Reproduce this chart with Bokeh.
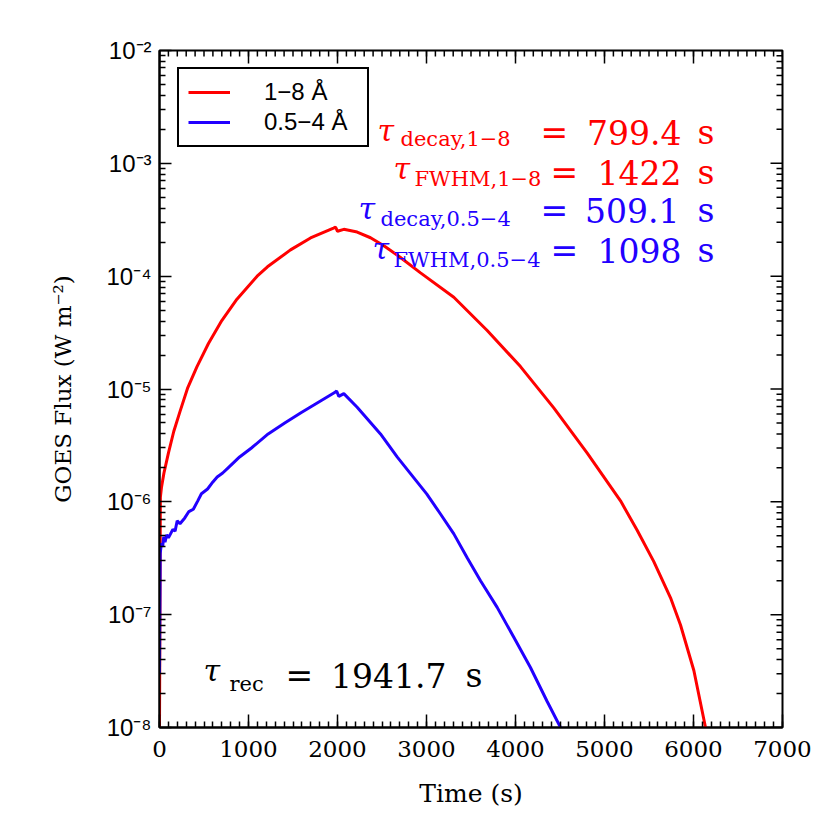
import math
from bokeh.plotting import figure
from bokeh.models import (ColumnDataSource, FixedTicker, Legend, LegendItem,
                          Range1d, CustomJSTickFormatter)
from bokeh.core.properties import value
from bokeh.embed import file_html
from bokeh.resources import INLINE

# ---------------- data ----------------
time_18 = [0, 10, 22, 50, 100, 160, 230, 318, 420, 550, 700, 870, 1097, 1213,
           1472, 1697, 1955, 1978, 2000, 2071, 2221, 2371, 2521, 2700, 2933,
           3307, 3682, 4056, 4430, 4806, 5180, 5367, 5554, 5742, 5854, 6004,
           6135]
flux_18 = [1.0e-8, 1.1e-6, 1.34e-6, 1.8e-6, 2.7e-6, 4.2e-6, 6.3e-6, 1.03e-5,
           1.57e-5, 2.53e-5, 4.04e-5, 6.25e-5, 1.0e-4, 1.21e-4, 1.71e-4,
           2.18e-4, 2.67e-4, 2.72e-4, 2.5e-4, 2.6e-4, 2.46e-4, 2.19e-4,
           1.86e-4, 1.48e-4, 1.07e-4, 6.5e-5, 3.3e-5, 1.58e-5, 6.8e-6, 2.7e-6,
           1.02e-6, 5.6e-7, 2.95e-7, 1.41e-7, 8.1e-8, 3.2e-8, 1.0e-8]

time_05 = [0, 8, 22, 35, 48, 62, 80, 100, 124, 150, 175, 199, 230, 284, 330,
           380, 430, 471, 540, 600, 648, 710, 771, 900, 1033, 1221, 1407, 1594,
           1781, 1968, 1990, 2015, 2071, 2221, 2483, 2670, 2820, 3004, 3157,
           3307, 3457, 3607, 3794, 3981, 4168, 4356, 4506]
flux_05 = [3.0e-8, 3.5e-7, 4.3e-7, 4.0e-7, 4.9e-7, 4.4e-7, 5.1e-7, 4.8e-7,
           5.2e-7, 5.7e-7, 5.5e-7, 6.8e-7, 6.4e-7, 7.2e-7, 8.2e-7, 8.6e-7,
           1.02e-6, 1.18e-6, 1.3e-6, 1.5e-6, 1.66e-6, 1.8e-6, 2.0e-6, 2.5e-6,
           3.0e-6, 4.0e-6, 5.0e-6, 6.2e-6, 7.6e-6, 9.3e-6, 9.6e-6, 8.6e-6,
           9.1e-6, 6.9e-6, 4.0e-6, 2.5e-6, 1.78e-6, 1.17e-6, 7.8e-7, 5.2e-7,
           3.2e-7, 2.0e-7, 1.16e-7, 6.3e-8, 3.4e-8, 1.7e-8, 1.0e-8]

series_labels = ["1\u22128 \u00c5", "0.5\u22124 \u00c5"]
series_colors = ["#ff0000", "#2200ff"]

x_ticks = [0, 1000, 2000, 3000, 4000, 5000, 6000, 7000]
y_ticks = [1e-8, 1e-7, 1e-6, 1e-5, 1e-4, 1e-3, 1e-2]
y_tick_labels = ["10\u207b\u2078", "10\u207b\u2077", "10\u207b\u2076",
                 "10\u207b\u2075", "10\u207b\u2074", "10\u207b\u00b3",
                 "10\u207b\u00b2"]

tau_subs = ["decay,1\u22128", "FWHM,1\u22128", "decay,0.5\u22124",
            "FWHM,0.5\u22124", "rec"]
tau_values = ["799.4", "1422", "509.1", "1098", "1941.7"]
tau_colors = ["#ff0000", "#ff0000", "#2200ff", "#2200ff", "#000000"]

X0, X1 = 0, 7000
Y0, Y1 = 1e-8, 1e-2

# ---------------- layout helpers (screen px -> data) ----------------
FL, FT, FW, FH = 159, 50, 623, 677


def dx(px):
    return X0 + (px - FL) / FW * (X1 - X0)


def dy(py):
    l0, l1 = math.log10(Y0), math.log10(Y1)
    return 10 ** (l0 + (FT + FH - py) / FH * (l1 - l0))


p = figure(frame_width=FW, frame_height=FH,
           x_range=Range1d(X0, X1), y_range=Range1d(Y0, Y1),
           y_axis_type="log", output_backend="svg", toolbar_location=None,
           min_border_left=FL, min_border_right=46, min_border_top=FT,
           min_border_bottom=100)
p.background_fill_color = "white"
p.border_fill_color = "white"
p.xgrid.grid_line_color = None
p.ygrid.grid_line_color = None
p.outline_line_color = "black"
p.outline_line_width = 2

x_minor = list(range(0, 7001, 100))
y_minor = [m * 10.0 ** e for e in range(-8, -2) for m in range(2, 10)]
xt = FixedTicker(ticks=x_ticks, minor_ticks=x_minor)
yt = FixedTicker(ticks=y_ticks, minor_ticks=y_minor)

yfmt = CustomJSTickFormatter(args=dict(yvals=y_ticks, ylabs=y_tick_labels), code="""
const i = yvals.findIndex(t => Math.abs(Math.log10(t) - Math.log10(tick)) < 1e-6);
return i >= 0 ? ylabs[i] : '';
""")


def style_axis(ax, major_len, minor_len):
    ax.major_tick_in = major_len
    ax.major_tick_out = 0
    ax.minor_tick_in = minor_len
    ax.minor_tick_out = 0
    ax.axis_line_color = "black"
    ax.axis_line_width = 2
    ax.major_tick_line_color = "black"
    ax.major_tick_line_width = 1.5
    ax.minor_tick_line_color = "black"
    ax.minor_tick_line_width = 1.5


xa = p.xaxis[0]
xa.ticker = xt
style_axis(xa, 13, 6)
xa.major_label_text_font = "DejaVu Serif"
xa.major_label_text_font_size = "23px"
xa.major_label_text_color = "black"
xa.major_label_standoff = 13
xa.axis_label = "Time (s)"
xa.axis_label_text_font = "DejaVu Serif"
xa.axis_label_text_font_size = "25px"
xa.axis_label_text_font_style = "normal"
xa.axis_label_text_color = "black"
xa.axis_label_standoff = 19

ya = p.yaxis[0]
ya.ticker = yt
ya.formatter = yfmt
style_axis(ya, 12, 6)
ya.major_label_text_font = "Liberation Sans"
ya.major_label_text_font_size = "24px"
ya.major_label_text_color = "black"
ya.major_label_standoff = 8
ya.axis_label = "GOES Flux (W m\u207b\u00b2)"
ya.axis_label_text_font = "DejaVu Serif"
ya.axis_label_text_font_size = "23px"
ya.axis_label_text_font_style = "normal"
ya.axis_label_text_color = "black"
ya.axis_label_standoff = 27

# ticks on the top and right edges of the frame (inward), at the tick values
p.ray(x=x_ticks, y=[Y1] * len(x_ticks), length=13, length_units="screen",
      angle=-math.pi / 2, line_color="black", line_width=1.5)
p.ray(x=x_minor, y=[Y1] * len(x_minor), length=6, length_units="screen",
      angle=-math.pi / 2, line_color="black", line_width=1.5)
p.ray(x=[X1] * len(y_ticks), y=y_ticks, length=12, length_units="screen",
      angle=math.pi, line_color="black", line_width=1.5)
p.ray(x=[X1] * len(y_minor), y=y_minor, length=6, length_units="screen",
      angle=math.pi, line_color="black", line_width=1.5)

# ---------------- curves ----------------
r18 = p.line(time_18, flux_18, line_color=series_colors[0], line_width=3)
r05 = p.line(time_05, flux_05, line_color=series_colors[1], line_width=3)

legend = Legend(items=[LegendItem(label=series_labels[0], renderers=[r18]),
                       LegendItem(label=series_labels[1], renderers=[r05])],
                location=(18, 580), padding=9, spacing=2, glyph_width=42,
                glyph_height=24, label_height=24, label_standoff=34,
                label_width=94, border_line_color="black", border_line_width=2,
                border_line_alpha=1.0, background_fill_alpha=1.0,
                label_text_font="Liberation Sans",
                label_text_font_size="24px", label_text_color="black")
p.add_layout(legend)

# ---------------- annotations ----------------
tau_px = [(377, 130), (393, 168), (358, 208), (372, 248), (203, 670)]
sub_px = [(400, 138), (414, 178), (380, 218), (393, 259), (229, 683)]
eq_px = [(540, 132), (550, 172), (540, 210), (550, 250), (285, 675)]
num_px = [(681, 132), (681, 172), (679, 210), (681, 250), (446, 675)]
s_px = [(697, 132), (697, 172), (697, 210), (697, 250), (465, 675)]


def src(pts, texts):
    return ColumnDataSource(dict(x=[dx(a) for a, b in pts],
                                 y=[dy(b) for a, b in pts],
                                 text=texts, color=tau_colors))


p.text(x="x", y="y", text="text", source=src(tau_px, ["\u03c4"] * 5),
       text_color="color", text_font=value("DejaVu Serif"),
       text_font_style="italic", text_font_size="30px",
       text_align="left", text_baseline="alphabetic")
p.text(x="x", y="y", text="text", source=src(sub_px, tau_subs),
       text_color="color", text_font=value("DejaVu Serif"),
       text_font_size="21px", text_align="left", text_baseline="alphabetic")
p.text(x="x", y="y", text="text", source=src(eq_px, ["="] * 5),
       text_color="color", text_font=value("DejaVu Serif"),
       text_font_size="33px", text_align="left", text_baseline="alphabetic")
p.text(x="x", y="y", text="text", source=src(num_px, tau_values),
       text_color="color", text_font=value("DejaVu Serif"),
       text_font_size="33px", text_align="right", text_baseline="alphabetic")
p.text(x="x", y="y", text="text", source=src(s_px, ["s"] * 5),
       text_color="color", text_font=value("DejaVu Serif"),
       text_font_size="33px", text_align="left", text_baseline="alphabetic")

open("out.html", "w").write(file_html(p, INLINE))
